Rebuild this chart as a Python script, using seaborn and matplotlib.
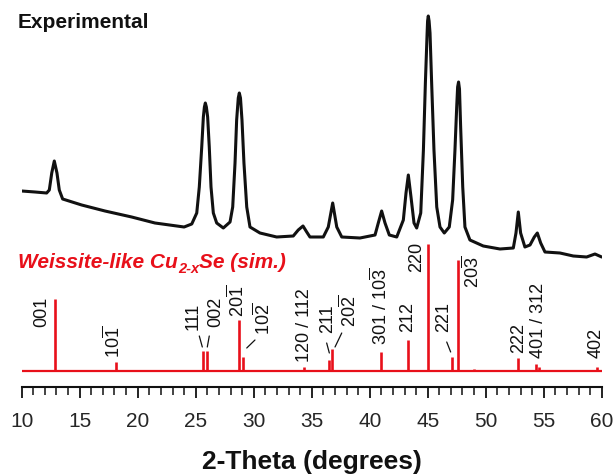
import numpy as np
import pandas as pd
import matplotlib
matplotlib.use("Agg")
import matplotlib.pyplot as plt
from matplotlib.ticker import MultipleLocator
import seaborn as sns

# ---------------- data ----------------
# Experimental powder pattern (2-theta in degrees, intensity in a.u.)
exp_two_theta = [10.0, 11.15, 12.15, 12.38, 12.59, 12.81, 13.04, 13.24, 13.53, 15.17,
                 17.18, 19.48, 21.49, 24.0, 24.66, 25.09, 25.31, 25.52, 25.66, 25.75,
                 25.83, 25.92, 26.03, 26.17, 26.32, 26.52, 26.81, 27.38, 27.96, 28.19,
                 28.39, 28.53, 28.67, 28.76, 28.86, 28.99, 29.16, 29.40, 29.68, 30.54,
                 31.98, 33.41, 33.84, 34.25, 34.57, 34.85, 36.0, 36.43, 36.81, 37.16,
                 37.59, 39.16, 40.46, 40.74, 41.03, 41.32, 41.69, 42.33, 42.9, 43.13,
                 43.33, 43.56, 43.82, 44.05, 44.4, 44.63, 44.8, 44.95, 44.99, 45.05,
                 45.12, 45.2, 45.34, 45.54, 45.78, 46.06, 46.43, 46.86, 47.15, 47.35,
                 47.5, 47.58, 47.66, 47.74, 47.84, 48.02, 48.21, 48.64, 49.79, 51.23,
                 52.38, 52.61, 52.81, 53.01, 53.38, 53.82, 54.19, 54.45, 54.74, 55.11,
                 56.4, 57.55, 58.7, 59.42, 60.0]
exp_intensity = [70, 69, 68, 71, 88, 100, 88, 71, 62, 56,
                 50, 44, 38, 34, 37, 48, 74, 114, 144, 154,
                 158, 154, 144, 114, 74, 48, 38, 33, 39, 54,
                 98, 141, 163, 168, 163, 141, 98, 54, 34, 28,
                 24, 25, 31, 35, 29, 24, 24, 34, 58, 34,
                 24, 23, 26, 38, 50, 38, 26, 24, 41, 68,
                 86, 64, 38, 33, 48, 111, 178, 228, 240, 245,
                 240, 228, 178, 111, 54, 34, 28, 34, 61, 111,
                 154, 174, 179, 172, 134, 74, 34, 21, 15, 12,
                 13, 28, 49, 28, 14, 16, 24, 28, 18, 9,
                 8, 5, 4, 7, 4]
exp_offset = 110

# Simulated reflections of weissite-like Cu(2-x)Se
sim_two_theta = [12.85, 18.13, 25.66, 26.0, 28.7, 29.1, 34.33, 36.52, 36.78, 40.97,
                 43.33, 45.05, 47.07, 47.64, 49.0, 52.81, 54.34, 54.6, 59.57]
sim_intensity = [72, 9, 20, 20, 51, 14, 4, 11, 22, 19,
                 31, 127, 14, 111, 2, 13, 7, 4, 4]

# Miller-index labels: text, x position, y of lower end
hkl_text = ["001", r"$\mathregular{10\overline{1}}$", "111", "002",
            r"$\mathregular{20\overline{1}}$", r"$\mathregular{10\overline{2}}$",
            "120 / 112", "211", r"$\mathregular{20\overline{2}}$",
            r"301 / $\mathregular{10\overline{3}}$", "212", "220", "221",
            r"$\mathregular{20\overline{3}}$", "222", "401 / 312", "402"]
hkl_x = [11.72, 17.90, 24.74, 26.75, 28.60, 30.80, 34.34, 36.35, 38.28, 40.89,
         43.28, 44.05, 46.35, 48.86, 52.81, 54.53, 59.51]
hkl_y = [44, 13, 41, 44, 54, 36, 9, 38, 44, 26, 39, 99, 39, 83, 18, 13, 13]

# leader lines from labels to crowded peaks: (x0, y0, x1, y1)
leaders = [(25.31, 35, 25.57, 24), (26.17, 35, 26.0, 24), (30.11, 31, 29.40, 23),
           (36.29, 28, 36.52, 18), (37.59, 38, 37.01, 24), (46.64, 29, 46.98, 19)]

x_ticks = [10, 15, 20, 25, 30, 35, 40, 45, 50, 55, 60]

# ---------------- style ----------------
sns.set_theme(style="white")
plt.rcParams["font.family"] = ["Liberation Sans", "DejaVu Sans"]
plt.rcParams["mathtext.fontset"] = "custom"
plt.rcParams["mathtext.rm"] = "Liberation Sans"
plt.rcParams["mathtext.it"] = "Liberation Sans:italic"
plt.rcParams["mathtext.bf"] = "Liberation Sans:bold"

RED = "#e8101a"
BLACK = "#111111"

W, H = 615, 474
fig = plt.figure(figsize=(W / 100, H / 100), dpi=100)
fig.patch.set_facecolor("white")
ax = fig.add_axes([21.7 / W, (H - 387) / H, 580 / W, 382 / H])
ax.set_facecolor("white")

# experimental pattern
df_exp = pd.DataFrame({"two_theta": exp_two_theta,
                       "intensity": np.array(exp_intensity) + exp_offset})
sns.lineplot(data=df_exp, x="two_theta", y="intensity", ax=ax, color=BLACK,
             lw=2.2, sort=False, estimator=None)

# simulated pattern: baseline + reflections
ax.hlines(0, 10, 60, color=RED, lw=1.6, zorder=3)
ax.vlines(sim_two_theta, 0, sim_intensity, color=RED, lw=1.9, zorder=3)

for t, x, y in zip(hkl_text, hkl_x, hkl_y):
    ax.text(x, y, t, rotation=90, ha="center", va="bottom", fontsize=13, color=BLACK)
for x0, y0, x1, y1 in leaders:
    ax.plot([x0, x1], [y0, y1], color=BLACK, lw=0.9)

# axes
ax.set_xlim(10, 60)
ax.set_ylim(-16, 366)
ax.set_xticks(x_ticks)
ax.xaxis.set_minor_locator(MultipleLocator(1))
ax.set_yticks([])
for s in ["top", "left", "right"]:
    ax.spines[s].set_visible(False)
ax.spines["bottom"].set_color(BLACK)
ax.spines["bottom"].set_linewidth(1.5)
ax.tick_params(axis="x", which="major", direction="out", length=8, width=1.3,
               color=BLACK, labelsize=15, pad=10, bottom=True)
ax.tick_params(axis="x", which="minor", direction="out", length=5.5, width=1.1,
               color=BLACK, bottom=True)
ax.set_xlabel("2-Theta (degrees)", fontsize=19, fontweight="bold", color=BLACK)
ax.xaxis.label.set_va("baseline")
ax.xaxis.set_label_coords(0.5, (387 - 469) / 382)
ax.set_ylabel("")

# titles
fig.text(18 / W, 1 - 28.3 / H, "Experimental", fontsize=15, fontweight="bold",
         color=BLACK, ha="left", va="baseline")

renderer = fig.canvas.get_renderer()
y_base = 1 - 267.5 / H
kw = dict(fontweight="bold", fontstyle="italic", color=RED, va="baseline", ha="left")
t1 = fig.text(18 / W, y_base, "Weissite-like Cu", fontsize=15, **kw)
bb1 = t1.get_window_extent(renderer)
t2 = fig.text(bb1.x1 / W, y_base - 5.5 / H, "2-x", fontsize=10.5, **kw)
bb2 = t2.get_window_extent(renderer)
fig.text(bb2.x1 / W, y_base, "Se (sim.)", fontsize=15, **kw)

fig.savefig("out.png", dpi=100, facecolor="white")
